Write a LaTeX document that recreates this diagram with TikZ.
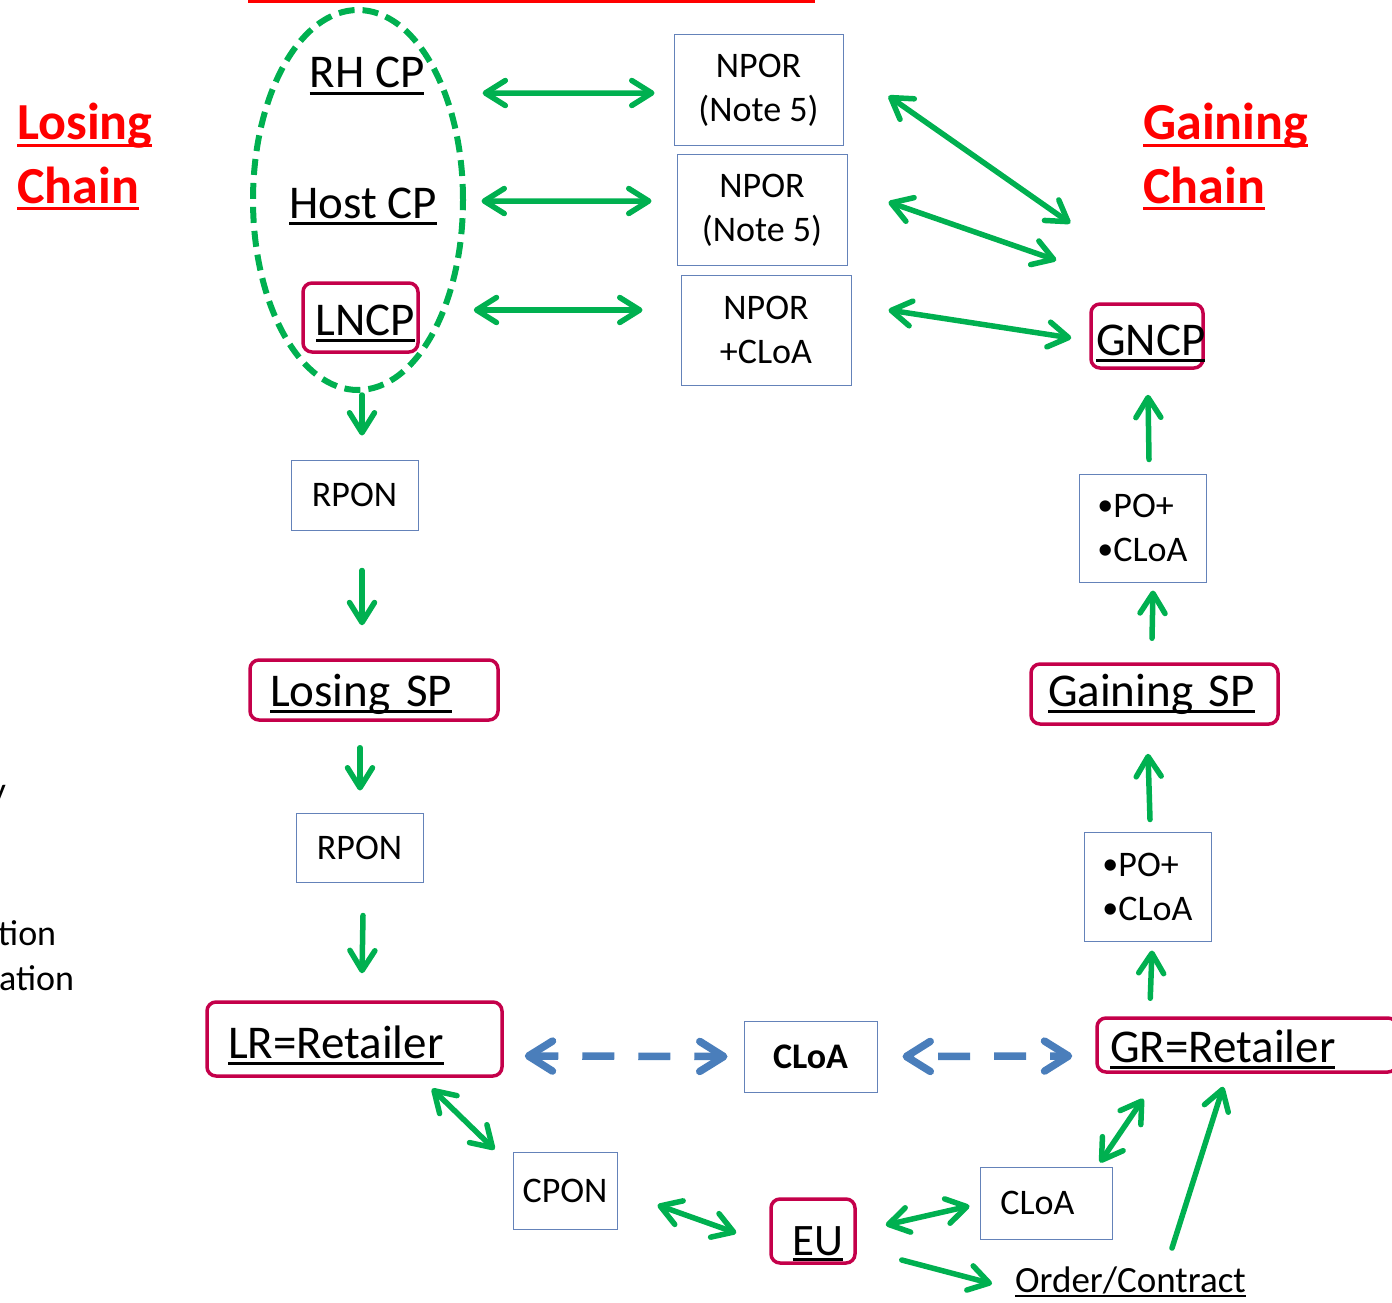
\documentclass[tikz,border=0pt]{standalone}
\usepackage{fontspec}
\setmainfont{Carlito}
\usetikzlibrary{arrows.meta,shapes.geometric}
\definecolor{grn}{RGB}{0,176,80}
\definecolor{crim}{RGB}{196,0,74}
\definecolor{boxblue}{RGB}{100,130,185}
\definecolor{darr}{RGB}{74,126,187}
\definecolor{hred}{RGB}{255,0,0}
\newcommand\uln[1]{\setbox0=\hbox{#1}\rlap{\rule[-0.14em]{\wd0}{0.065em}}\box0}
\newcommand\fsa{\fontsize{47}{57}\selectfont}
\newcommand\fsb{\fontsize{36}{44}\selectfont}
\newcommand\fsh{\fontsize{52}{63}\selectfont\bfseries}
\newcommand\fse{\fontsize{45}{54}\selectfont}
\newcommand\fso{\fontsize{37}{45}\selectfont}
\newcommand\bul{\raisebox{2pt}{\fontsize{32}{32}\selectfont •}}
\tikzset{
  gtip/.tip={Straight Barb[round,length=20pt,width=25pt]},
  btip/.tip={Straight Barb[round,length=24pt,width=30pt]},
  garr/.style={draw=grn, line width=5.5pt, line cap=round},
  barr/.style={draw=darr, line width=7.5pt, dash pattern=on 32pt off 24pt},
  box/.style={draw=boxblue, line width=1pt, inner sep=0pt, font=\fsb, align=center},
  rbox/.style={draw=crim, line width=3.5pt, rounded corners=9pt, inner sep=0pt, font=\fsa},
  txt/.style={inner sep=0pt, font=\fsa},
  txtb/.style={inner sep=0pt, font=\fsb},
  head/.style={inner sep=0pt, font=\fsh, text=hred}
}
\begin{document}
\begin{tikzpicture}[x=1pt,y=-1pt]
\useasboundingbox (0,0) rectangle (1392,1303);
% top red line
\draw[hred, line width=6pt] (248,0) -- (815,0);
% headings
\node[head, anchor=base west] (lc1) at (17,140) {\uln{Losing}};
\node[head, anchor=base west] (lc2) at (17,203) {\uln{Chain}};
\node[head, anchor=base west] (gc1) at (1143,140) {\uln{Gaining}};
\node[head, anchor=base west] (gc2) at (1143,203) {\uln{Chain}};
% partial text at left edge
\node[txtb, anchor=base east] (py) at (6,802) {y};
\node[txtb, anchor=base west] (pt) at (-2,945) {tion};
\node[txtb, anchor=base west] (pa) at (-1,990) {ation};
% losing chain ellipse
\node[draw=grn, line width=6pt, dash pattern=on 16pt off 8pt, ellipse, minimum width=210pt, minimum height=380pt, inner sep=0pt] (ell) at (358,200) {};
\node[txt, anchor=base] (rhcp) at (367,88) {\uln{RH CP}};
\node[txt, anchor=base] (hostcp) at (363,218) {\uln{Host CP}};
\node[rbox, minimum width=115pt, minimum height=69pt, text height=36pt, text depth=1pt] (lncp) at (360.5,317.5) {\hspace*{10pt}\uln{LNCP}};
% NPOR boxes
\node[box, minimum width=169pt, minimum height=111pt] (npor1) at (758.5,90.5) {NPOR\\(Note 5)};
\node[box, minimum width=170pt, minimum height=110pt] (npor2) at (762,210) {NPOR\\(Note 5)};
\node[box, minimum width=170pt, minimum height=110pt] (npor3) at (766,330) {NPOR\\+CLoA};
\node[rbox, minimum width=112pt, minimum height=64pt, text height=40pt, text depth=2pt] (gncp) at (1147,336) {\makebox[112pt][l]{\hspace*{5pt}\uln{GNCP}}};
% losing side
\node[box, minimum width=127pt, minimum height=70pt] (rpon1) at (354.5,495) {RPON};
\node[rbox, minimum height=60pt, text width=208pt, inner xsep=20pt, align=left, text height=34pt, text depth=2pt] (losingsp) at (374,690) {\uln{Losing SP}};
\node[box, minimum width=127pt, minimum height=69pt] (rpon2) at (359.5,847.5) {RPON};
\node[rbox, minimum height=74pt, text width=253pt, inner xsep=21pt, align=left, text height=40pt, text depth=2pt] (lr) at (354.5,1039) {\uln{LR=Retailer}};
% gaining side
\node[box, align=left, minimum width=127pt, minimum height=108pt] (po1) at (1142.5,528) {\bul PO+\\\bul CLoA};
\node[rbox, minimum height=60pt, text width=213pt, inner xsep=17pt, align=left, text height=27pt, text depth=3pt] (gainingsp) at (1154.5,694) {\uln{Gaining SP}};
\node[box, align=left, minimum width=127pt, minimum height=109pt] (po2) at (1147.5,886.5) {\bul PO+\\\bul CLoA};
\node[rbox, minimum height=54pt, text width=274pt, inner xsep=13pt, align=left, text height=36pt, text depth=2pt] (gr) at (1247,1045) {\uln{GR=Retailer}};
% bottom
\node[box, font=\fsb\bfseries, minimum width=133pt, minimum height=71pt] (cloa1) at (810.5,1056.5) {CLoA};
\node[box, minimum width=104pt, minimum height=77pt] (cpon) at (565,1190.5) {CPON};
\node[rbox, font=\fse, minimum width=84pt, minimum height=64pt, text height=50pt, text depth=2pt] (eu) at (813,1231) {\hspace*{10pt}\uln{EU}};
\node[box, minimum width=132pt, minimum height=72pt] (cloa2) at (1046,1203) {CLoA\hspace*{17pt}};
\node[inner sep=0pt, font=\fso, anchor=base west] (order) at (1015,1292) {\uln{Order/Contract}};
% connectors: top
\draw[garr, gtip-gtip] ([shift={(58,17)}]rhcp.east) -- ([shift={(-19,2.5)}]npor1.west);
\draw[garr, gtip-gtip] ([shift={(44.5,-5)}]hostcp.east) -- ([shift={(-25,-9)}]npor2.west);
\draw[garr, gtip-gtip] ([shift={(54,-7.5)}]lncp.east) -- ([shift={(-38,-20)}]npor3.west);
\draw[garr, gtip-gtip] ([shift={(45,5.5)}]npor1.east) -- ([shift={(-19,-79)}]gncp.north west);
\draw[garr, gtip-gtip] ([shift={(41,-8)}]npor2.east) -- ([shift={(-33,-42)}]gncp.north west);
\draw[garr, gtip-gtip] ([shift={(37,-20)}]npor3.east) -- ([shift={(-18,2)}]gncp.west);
% losing chain down
\draw[garr, -gtip] ([shift={(4,2)}]ell.south) -- ([shift={(7.5,-24)}]rpon1.north);
\draw[garr, -gtip] ([shift={(7.5,40)}]rpon1.south) -- ([shift={(-12,-33)}]losingsp.north);
\draw[garr, -gtip] ([shift={(-14,26)}]losingsp.south) -- ([shift={(0.5,-22)}]rpon2.north);
\draw[garr, -gtip] ([shift={(3.5,33)}]rpon2.south) -- ([shift={(7.5,-27)}]lr.north);
% retailer level
\draw[barr, dash phase=6pt, btip-btip] ([shift={(21,17)}]lr.east) -- ([shift={(-16,0)}]cloa1.west);
\draw[barr, dash phase=28pt, btip-btip] ([shift={(25,0)}]cloa1.east) -- ([shift={(-23,11)}]gr.west);
% bottom
\draw[garr, gtip-gtip] ([shift={(77.5,11)}]lr.south) -- ([shift={(-18,-2)}]cpon.north west);
\draw[garr, gtip-gtip] ([shift={(40,14.5)}]cpon.east) -- ([shift={(-33,2)}]eu.west);
\draw[garr, gtip-gtip] ([shift={(29,-6)}]eu.east) -- ([shift={(-10,3)}]cloa2.west);
\draw[garr, -gtip] ([shift={(45,29)}]eu.east) -- ([shift={(-23,2)}]order.west);
\draw[garr, gtip-gtip] ([shift={(54,-4)}]cloa2.north) -- ([shift={(48,25)}]gr.south west);
\draw[garr, -gtip] ([shift={(41.5,-18)}]order.north) -- ([shift={(128,13)}]gr.south west);
% gaining chain up
\draw[garr, -gtip] ([shift={(55,-18)}]gr.north west) -- ([shift={(4.5,9)}]po2.south);
\draw[garr, -gtip] ([shift={(2.5,-12)}]po2.north) -- ([shift={(-6.5,28)}]gainingsp.south);
\draw[garr, -gtip] ([shift={(-2.5,-24)}]gainingsp.north) -- ([shift={(10.5,8)}]po1.south);
\draw[garr, -gtip] ([shift={(6.5,-14)}]po1.north) -- ([shift={(1,25)}]gncp.south);
\end{tikzpicture}
\end{document}
